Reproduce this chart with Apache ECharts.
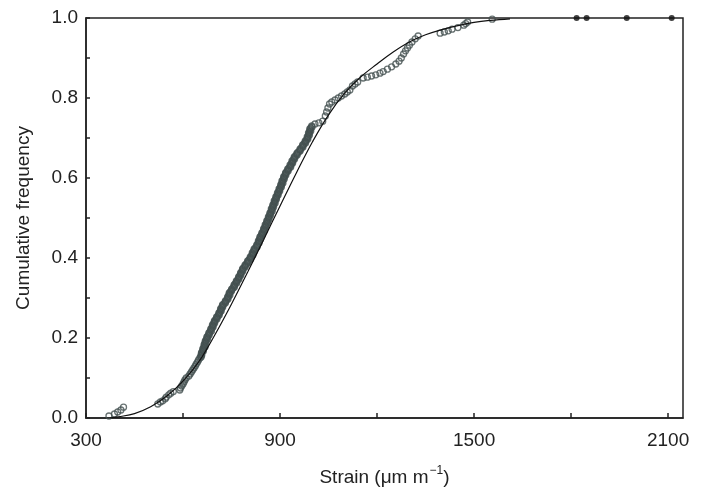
<!DOCTYPE html>
<html>
<head>
<meta charset="utf-8">
<script src="https://cdn.jsdelivr.net/npm/echarts@6/dist/echarts.min.js"></script>
<style>
  html, body { margin: 0; padding: 0; background: #fff; }
  #chart { width: 702px; height: 490px; }
</style>
</head>
<body>
<div id="chart"></div>
<script>
// observed strains (um/m) and their cumulative frequency
const obsStrain = [
  371, 388, 398, 408, 416,
  522, 530, 537, 545, 548, 556, 562, 570,
  590, 592, 596, 600, 603, 606, 610,
  618, 622, 626, 630, 634, 638, 641, 645, 648,
  652, 655, 657, 659, 662, 664, 666, 667, 669, 672,
  674, 677, 680, 683, 686, 689, 692, 694, 697, 700,
  704, 708, 711, 714, 717, 719, 722, 726, 731, 735,
  738, 741, 743, 746, 750, 755, 758, 761, 765, 769,
  772, 775, 778, 781, 784, 787, 792, 796, 800, 804,
  808, 812, 815, 817, 820, 824, 828, 831, 834, 836,
  838, 841, 844, 847, 850, 852, 855, 857, 860, 862,
  865, 867, 869, 872, 874, 876, 878, 881, 883, 885,
  888, 890, 893, 895, 898, 900, 903, 905, 907, 909,
  912, 914, 917, 920, 924, 928, 932, 935, 938, 941,
  944, 948, 952, 957, 962, 966, 970, 974, 978, 982,
  985, 987, 989, 991, 993, 995, 998,
  1008, 1020, 1032,
  1040, 1044, 1048, 1053, 1060, 1070, 1080, 1090, 1100, 1108, 1116, 1124, 1132, 1140,
  1157, 1170, 1183, 1196, 1209, 1219,
  1232, 1245, 1258, 1268, 1275, 1282, 1288, 1294, 1300, 1308, 1318, 1327,
  1395, 1408, 1420, 1432, 1450, 1468, 1474, 1480, 1556
];
const obsFreq = [
  0.005, 0.010, 0.015, 0.020, 0.027,
  0.035, 0.040, 0.043, 0.048, 0.052, 0.058, 0.062, 0.066,
  0.070, 0.075, 0.080, 0.085, 0.090, 0.095, 0.100,
  0.105, 0.110, 0.115, 0.120, 0.125, 0.130, 0.135, 0.140, 0.145,
  0.150, 0.155, 0.160, 0.165, 0.170, 0.175, 0.180, 0.185, 0.190, 0.195,
  0.200, 0.205, 0.210, 0.215, 0.220, 0.225, 0.230, 0.235, 0.240, 0.245,
  0.250, 0.255, 0.260, 0.265, 0.270, 0.275, 0.280, 0.285, 0.290, 0.295,
  0.300, 0.305, 0.310, 0.315, 0.320, 0.325, 0.330, 0.335, 0.340, 0.345,
  0.350, 0.355, 0.360, 0.365, 0.370, 0.375, 0.380, 0.385, 0.390, 0.395,
  0.400, 0.405, 0.410, 0.415, 0.420, 0.425, 0.430, 0.435, 0.440, 0.445,
  0.450, 0.455, 0.460, 0.465, 0.470, 0.475, 0.480, 0.485, 0.490, 0.495,
  0.500, 0.505, 0.510, 0.515, 0.520, 0.525, 0.530, 0.535, 0.540, 0.545,
  0.550, 0.555, 0.560, 0.565, 0.570, 0.575, 0.580, 0.585, 0.590, 0.595,
  0.600, 0.605, 0.610, 0.615, 0.620, 0.625, 0.630, 0.635, 0.640, 0.645,
  0.650, 0.655, 0.660, 0.665, 0.670, 0.675, 0.680, 0.685, 0.690, 0.695,
  0.700, 0.705, 0.710, 0.715, 0.720, 0.725, 0.730,
  0.735, 0.738, 0.742,
  0.755, 0.765, 0.775, 0.785, 0.790, 0.795, 0.800, 0.805, 0.810, 0.815, 0.820, 0.830, 0.835, 0.840,
  0.850, 0.852, 0.855, 0.858, 0.862, 0.866,
  0.872, 0.878, 0.885, 0.892, 0.900, 0.910, 0.918, 0.925, 0.932, 0.940, 0.948, 0.955,
  0.962, 0.965, 0.968, 0.972, 0.976, 0.982, 0.986, 0.990, 0.997
];

// second row of observations that thickens the dense middle band
const bandStrain = [
  656, 658, 657, 663, 661, 668, 665, 671, 669, 676,
  674, 681, 680, 688, 686, 693, 691, 698, 697, 705,
  704, 712, 711, 718, 716, 723, 722, 731, 731, 739,
  738, 745, 743, 750, 751, 759, 758, 766, 765, 773,
  772, 779, 778, 785, 784, 792, 792, 800, 800, 809,
  808, 816, 814, 821, 820, 829, 828, 835, 833, 840,
  838, 845, 844, 851, 849, 856, 854, 861, 859, 866,
  864, 871, 869, 876, 873, 880, 878, 885, 882, 889,
  887, 894, 892, 899, 897, 904, 902, 909, 906, 913,
  911, 918, 917, 925, 924, 933, 931, 939, 937, 945,
  944, 953, 953, 962, 962, 971, 970, 979, 978, 986,
  984, 991, 988, 995, 992, 999
];
const bandFreq = [
  0.1525, 0.1575, 0.1625, 0.1675, 0.1725, 0.1775, 0.1825, 0.1875, 0.1925, 0.1975,
  0.2025, 0.2075, 0.2125, 0.2175, 0.2225, 0.2275, 0.2325, 0.2375, 0.2425, 0.2475,
  0.2525, 0.2575, 0.2625, 0.2675, 0.2725, 0.2775, 0.2825, 0.2875, 0.2925, 0.2975,
  0.3025, 0.3075, 0.3125, 0.3175, 0.3225, 0.3275, 0.3325, 0.3375, 0.3425, 0.3475,
  0.3525, 0.3575, 0.3625, 0.3675, 0.3725, 0.3775, 0.3825, 0.3875, 0.3925, 0.3975,
  0.4025, 0.4075, 0.4125, 0.4175, 0.4225, 0.4275, 0.4325, 0.4375, 0.4425, 0.4475,
  0.4525, 0.4575, 0.4625, 0.4675, 0.4725, 0.4775, 0.4825, 0.4875, 0.4925, 0.4975,
  0.5025, 0.5075, 0.5125, 0.5175, 0.5225, 0.5275, 0.5325, 0.5375, 0.5425, 0.5475,
  0.5525, 0.5575, 0.5625, 0.5675, 0.5725, 0.5775, 0.5825, 0.5875, 0.5925, 0.5975,
  0.6025, 0.6075, 0.6125, 0.6175, 0.6225, 0.6275, 0.6325, 0.6375, 0.6425, 0.6475,
  0.6525, 0.6575, 0.6625, 0.6675, 0.6725, 0.6775, 0.6825, 0.6875, 0.6925, 0.6975,
  0.7025, 0.7075, 0.7125, 0.7175, 0.7225, 0.7275
];

// fitted distribution curve
const fitStrain = [374, 400, 450, 500, 550, 600, 650, 700, 750, 800, 850, 900, 950, 1000, 1050, 1100, 1150, 1200, 1250, 1300, 1350, 1400, 1450, 1500, 1550, 1611];
const fitFreq = [0.0, 0.003, 0.011, 0.028, 0.055, 0.092, 0.142, 0.210, 0.285, 0.365, 0.447, 0.530, 0.612, 0.690, 0.758, 0.812, 0.853, 0.885, 0.915, 0.940, 0.958, 0.971, 0.981, 0.989, 0.994, 0.998];

// extreme values plotted at 1.0
const extremeStrain = [1817, 1848, 1972, 2111];
const extremeFreq = [1.0, 1.0, 1.0, 1.0];

const xTickLabels = [300, 900, 1500, 2100];

const zip = (a, b) => a.map((v, i) => [v, b[i]]);

const chart = echarts.init(document.getElementById('chart'));

const axisColor = '#222';
const fontFamily = 'Liberation Sans, Arial, sans-serif';
const circleStyle = { color: 'rgba(0,0,0,0)', borderColor: '#435050', borderWidth: 1.3 };

const option = {
  animation: false,
  grid: {
    left: 86,
    right: 19,
    top: 18,
    bottom: 72,
    outerBoundsMode: 'none',
    show: true,
    borderColor: axisColor,
    borderWidth: 1.5,
    backgroundColor: 'transparent'
  },
  xAxis: {
    type: 'value',
    min: 300,
    max: 2146,
    interval: 300,
    splitLine: { show: false },
    axisLine: { lineStyle: { color: axisColor, width: 1.5 } },
    axisTick: { inside: true, length: 5, lineStyle: { color: axisColor, width: 1.5 } },
    axisLabel: {
      color: '#222',
      fontSize: 19,
      fontFamily: fontFamily,
      margin: 13,
      showMaxLabel: false,
      formatter: v => (xTickLabels.indexOf(v) >= 0 ? String(v) : '')
    },
    name: '{n|Strain (μm m}{sup|−1}{n|)}',
    nameLocation: 'middle',
    nameGap: 45,
    nameTextStyle: {
      color: '#222',
      fontSize: 19,
      fontFamily: fontFamily,
      rich: {
        n: { fontSize: 19, color: '#222', fontFamily: fontFamily, verticalAlign: 'bottom', lineHeight: 24 },
        sup: { fontSize: 12, color: '#222', fontFamily: fontFamily, verticalAlign: 'bottom', padding: [0, 0, 10, 1] }
      }
    }
  },
  yAxis: {
    type: 'value',
    min: 0,
    max: 1,
    interval: 0.1,
    splitLine: { show: false },
    axisLine: { lineStyle: { color: axisColor, width: 1.5 } },
    axisTick: { inside: true, length: 4, lineStyle: { color: axisColor, width: 1.5 } },
    axisLabel: {
      color: '#222',
      fontSize: 19,
      fontFamily: fontFamily,
      margin: 8,
      formatter: v => (Math.round(v * 10) % 2 === 0 ? v.toFixed(1) : '')
    },
    name: 'Cumulative frequency',
    nameLocation: 'middle',
    nameGap: 53,
    nameTextStyle: { color: '#222', fontSize: 19, fontFamily: fontFamily }
  },
  series: [
    {
      name: 'fit',
      type: 'line',
      data: zip(fitStrain, fitFreq),
      smooth: 0.4,
      showSymbol: false,
      lineStyle: { color: '#111', width: 1.2 },
      z: 3
    },
    {
      name: 'observed',
      type: 'scatter',
      data: zip(obsStrain, obsFreq),
      symbol: 'circle',
      symbolSize: 6,
      itemStyle: circleStyle,
      z: 2
    },
    {
      name: 'observed band',
      type: 'scatter',
      data: zip(bandStrain, bandFreq),
      symbol: 'circle',
      symbolSize: 6,
      itemStyle: circleStyle,
      z: 2
    },
    {
      name: 'extreme',
      type: 'scatter',
      data: zip(extremeStrain, extremeFreq),
      symbol: 'circle',
      symbolSize: 6,
      itemStyle: { color: '#111' },
      z: 4
    }
  ]
};

chart.setOption(option);
</script>
</body>
</html>
